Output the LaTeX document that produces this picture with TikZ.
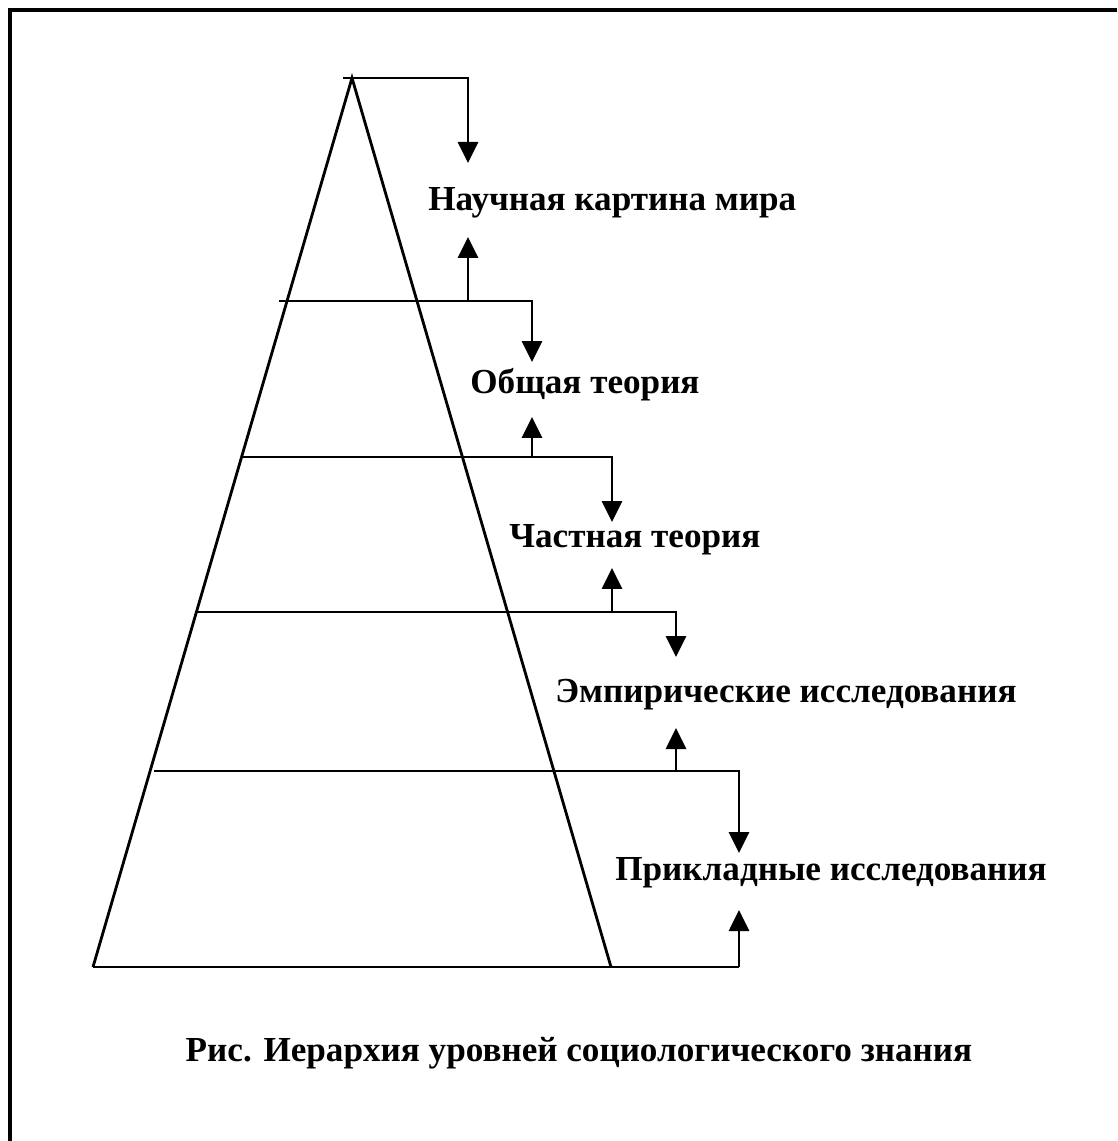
\documentclass[tikz,border=0pt]{standalone}
\usepackage{fontspec}
\setmainfont{Liberation Serif}
\usetikzlibrary{arrows.meta,positioning,calc}

\begin{document}
\begin{tikzpicture}
[x=0.02cm,y=-0.02cm,font=\fontsize{20}{22}\selectfont\bfseries,
side/.style={black,line width=1.6pt},
link/.style={black,line width=1.6pt,-{Triangle[width=0.4cm,length=0.42cm]}},
lvl/.style={inner sep=0pt,anchor=west}]
%%%%%%%%%%

\useasboundingbox (0,0) rectangle (1117,1141);
\draw[line width=2pt] (10,1141) -- (10,10) -- (1117,10);

% pyramid
\coordinate (apex) at (352,78);
\coordinate (bl) at (93,967);
\coordinate (br) at (611,967);
\draw[side] (bl) -- (apex) -- (br);

% levels
\node[lvl] (world) at (428,203) {Научная картина мира};
\node[lvl] (general) at (470,385) {Общая теория};
\node[lvl] (special) at (509,540) {Частная теория};
\node[lvl] (empiric) at (555,695) {Эмпирические исследования};
\node[lvl] (applied) at (615,873) {Прикладные исследования};

\foreach \i/\xs/\ys/\x/\yin/\yout/\ye in {1/343/78/468/163/237/301,2/279/301/532/362/417/457,3/241/457/612/522/568/612,4/197/612/676/657/728/771,5/154/771/739/853/910/967}
{
    \coordinate (start\i) at (\xs,\ys);
    \coordinate (in\i) at (\x,\yin);
    \coordinate (out\i) at (\x,\yout);
    \coordinate (foot\i) at (\x,\ye);
    \draw[link] (start\i) -| (in\i);
    \draw[link] (foot\i) -- (out\i);
}
\draw[side] (bl) -- (foot5);

\node (caption) at (579,1053) {Рис. Иерархия уровней социологического знания};
\end{tikzpicture}
\end{document}
